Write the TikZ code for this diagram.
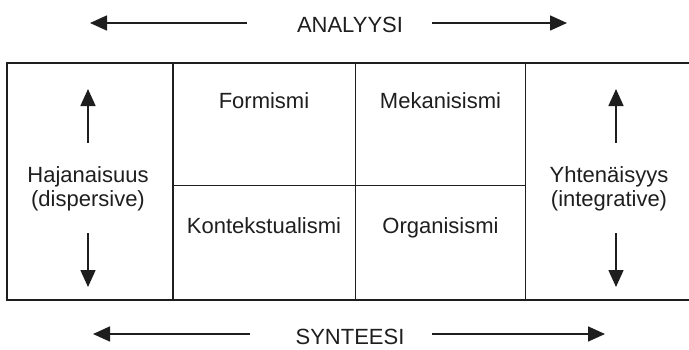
\documentclass[tikz,border=0pt]{standalone}
\usepackage{fontspec}
\setmainfont{Liberation Sans}
\usetikzlibrary{arrows.meta}
\definecolor{ink}{HTML}{1E1E1E}
\tikzset{
  lbl/.style={inner sep=0pt, anchor=base, text=ink, font=\fontsize{22}{26}\selectfont},
  frame/.style={draw=ink, line width=1.5pt},
  inner/.style={draw=ink, line width=1.2pt},
  arr/.style={draw=ink, line width=1.6pt, -{Triangle[length=17pt,width=15pt]}}
}
\begin{document}
\begin{tikzpicture}[x=1pt,y=-1pt]
\useasboundingbox (0,0) rectangle (689,349);
% frame corners
\coordinate (tl) at (7,63);
\coordinate (bl) at (7,300);
\coordinate (tr) at (692,63);
\coordinate (br) at (692,300);
\coordinate (v1t) at (173,63);   \coordinate (v1b) at (173,300);
\coordinate (v2t) at (355.5,63); \coordinate (v2b) at (355.5,300);
\coordinate (v3t) at (525.5,63); \coordinate (v3b) at (525.5,300);
\coordinate (hl) at (173,185.5); \coordinate (hr) at (525.5,185.5);
\draw[frame] (tr) -- (tl) -- (bl) -- (br);
\draw[inner] (v1t) -- (v1b);
\draw[inner] (v2t) -- (v2b);
\draw[inner] (v3t) -- (v3b);
\draw[inner] (hl) -- (hr);
% top
\node[lbl] (ana) at (350,32) {ANALYYSI};
\coordinate (a1s) at (247,23); \coordinate (a1e) at (90,23);
\coordinate (a2s) at (432,23); \coordinate (a2e) at (567,23);
\draw[arr] (a1s) -- (a1e);
\draw[arr] (a2s) -- (a2e);
% bottom
\node[lbl] (syn) at (350,344) {SYNTEESI};
\coordinate (s1s) at (250,334); \coordinate (s1e) at (93,334);
\coordinate (s2s) at (432,334); \coordinate (s2e) at (605,334);
\draw[arr] (s1s) -- (s1e);
\draw[arr] (s2s) -- (s2e);
% cells
\node[lbl] (form) at (264,108) {Formismi};
\node[lbl] (mek) at (440.5,108) {Mekanisismi};
\node[lbl] (kon) at (264,233) {Kontekstualismi};
\node[lbl] (org) at (440.5,233) {Organisismi};
% left
\node[lbl] (haj) at (88,182) {Hajanaisuus};
\node[lbl] (disp) at (88,206) {(dispersive)};
\coordinate (lu1) at (88,143); \coordinate (lu2) at (88,89);
\coordinate (ld1) at (88,233); \coordinate (ld2) at (88,287);
\draw[arr] (lu1) -- (lu2);
\draw[arr] (ld1) -- (ld2);
% right
\node[lbl] (yht) at (609,182) {Yhtenäisyys};
\node[lbl] (integ) at (609,206) {(integrative)};
\coordinate (ru1) at (616,143); \coordinate (ru2) at (616,89);
\coordinate (rd1) at (616,233); \coordinate (rd2) at (616,287);
\draw[arr] (ru1) -- (ru2);
\draw[arr] (rd1) -- (rd2);
\end{tikzpicture}
\end{document}
